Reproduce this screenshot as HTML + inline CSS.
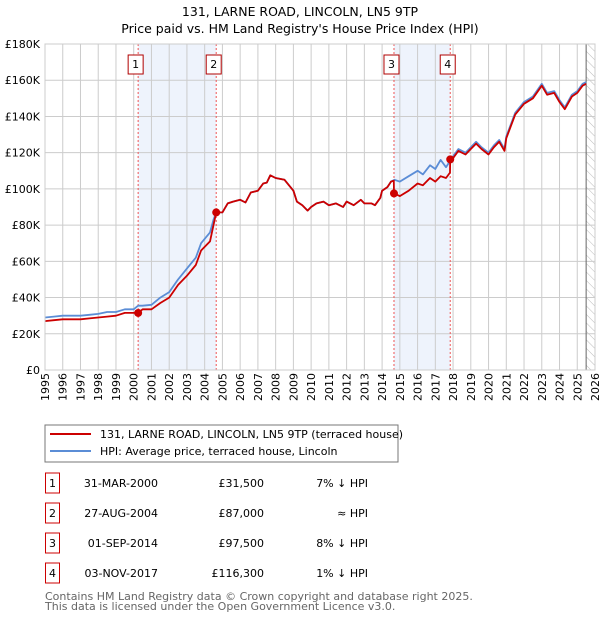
<!DOCTYPE html>
<html><head><meta charset="utf-8">
<style>
body{margin:0;background:#fff;font-family:"Liberation Sans","DejaVu Sans",sans-serif;}
#wrap{position:relative;width:600px;height:620px;overflow:hidden;}
svg text{font-family:"DejaVu Sans","Liberation Sans",sans-serif;}
</style></head>
<body>
<div id="wrap">
<svg id="chart" width="600" height="620" style="position:absolute;left:0;top:0">
<defs>
<pattern id="hatch" width="6" height="6" patternUnits="userSpaceOnUse" patternTransform="rotate(-45)">
<line x1="0" y1="0" x2="0" y2="6" stroke="#bbb" stroke-width="1"/>
</pattern>
</defs>
<text x="300" y="16" text-anchor="middle" font-size="12.5">131, LARNE ROAD, LINCOLN, LN5 9TP</text>
<text x="300" y="33" text-anchor="middle" font-size="12.5">Price paid vs. HM Land Registry's House Price Index (HPI)</text>
<g id="plot"></g>
<g id="xlabels" font-size="11" text-anchor="end">
<text transform="translate(49,373) rotate(-90)">1995</text>
<text transform="translate(66.7,373) rotate(-90)">1996</text>
<text transform="translate(84.5,373) rotate(-90)">1997</text>
<text transform="translate(102.2,373) rotate(-90)">1998</text>
<text transform="translate(120,373) rotate(-90)">1999</text>
<text transform="translate(137.7,373) rotate(-90)">2000</text>
<text transform="translate(155.5,373) rotate(-90)">2001</text>
<text transform="translate(173.2,373) rotate(-90)">2002</text>
<text transform="translate(191,373) rotate(-90)">2003</text>
<text transform="translate(208.7,373) rotate(-90)">2004</text>
<text transform="translate(226.4,373) rotate(-90)">2005</text>
<text transform="translate(244.2,373) rotate(-90)">2006</text>
<text transform="translate(261.9,373) rotate(-90)">2007</text>
<text transform="translate(279.7,373) rotate(-90)">2008</text>
<text transform="translate(297.4,373) rotate(-90)">2009</text>
<text transform="translate(315.1,373) rotate(-90)">2010</text>
<text transform="translate(332.9,373) rotate(-90)">2011</text>
<text transform="translate(350.6,373) rotate(-90)">2012</text>
<text transform="translate(368.4,373) rotate(-90)">2013</text>
<text transform="translate(386.1,373) rotate(-90)">2014</text>
<text transform="translate(403.8,373) rotate(-90)">2015</text>
<text transform="translate(421.6,373) rotate(-90)">2016</text>
<text transform="translate(439.3,373) rotate(-90)">2017</text>
<text transform="translate(457.1,373) rotate(-90)">2018</text>
<text transform="translate(474.8,373) rotate(-90)">2019</text>
<text transform="translate(492.5,373) rotate(-90)">2020</text>
<text transform="translate(510.3,373) rotate(-90)">2021</text>
<text transform="translate(528,373) rotate(-90)">2022</text>
<text transform="translate(545.8,373) rotate(-90)">2023</text>
<text transform="translate(563.5,373) rotate(-90)">2024</text>
<text transform="translate(581.3,373) rotate(-90)">2025</text>
<text transform="translate(599,373) rotate(-90)">2026</text>
</g>
<rect x="45" y="425" width="353" height="37" fill="#fff" stroke="#777"/>
<line x1="50" y1="434" x2="91" y2="434" stroke="#cc0000" stroke-width="2"/>
<text x="100" y="438" font-size="11">131, LARNE ROAD, LINCOLN, LN5 9TP (terraced house)</text>
<line x1="50" y1="451" x2="91" y2="451" stroke="#5b8dd6" stroke-width="2"/>
<text x="100" y="455" font-size="11">HPI: Average price, terraced house, Lincoln</text>
<g id="table" font-size="11"></g>
<text x="45" y="600" font-size="11" fill="#666">Contains HM Land Registry data © Crown copyright and database right 2025.</text>
<text x="45" y="610" font-size="11" fill="#666">This data is licensed under the Open Government Licence v3.0.</text>
</svg>
</div>
<script>
const hpiYears=[1995,1995.5,1996,1996.5,1997,1997.5,1998,1998.5,1999,1999.5,2000,2000.25,2000.5,2001,2001.5,2002,2002.5,2003,2003.5,2003.8,2004.3,2004.5,2004.65,2005,2005.3,2005.6,2006,2006.3,2006.6,2007,2007.3,2007.5,2007.7,2008,2008.5,2009,2009.2,2009.5,2009.8,2010,2010.3,2010.7,2011,2011.4,2011.8,2012,2012.4,2012.8,2013,2013.4,2013.6,2013.9,2014,2014.3,2014.5,2014.7,2015,2015.5,2016,2016.3,2016.7,2017,2017.3,2017.6,2018,2018.3,2018.7,2019,2019.3,2019.6,2020,2020.3,2020.6,2020.9,2021,2021.5,2022,2022.5,2023,2023.3,2023.7,2024,2024.3,2024.7,2025,2025.3,2025.5];
const hpiValues=[29,29.5,30,30,30,30.5,31,32,32,33.5,33.5,35.5,35.5,36,40,43,50,56,62,70,76,83,87,87,92,93,94,92.5,98,99,103,103.5,107.5,106,105,99,93,91,88,90,92,93,91,92,90,93,91,94,92,92,91,95,99,101,104,105,104,107,110,108,113,111,116,112,118,122,120,123,126,123,120,124,127,122,129,142,148,151,158,153,154,149,145,152,154,158,159];
const ppYears=[1995,1995.5,1996,1996.5,1997,1997.5,1998,1998.5,1999,1999.5,2000,2000.25,2000.5,2001,2001.5,2002,2002.5,2003,2003.5,2003.8,2004.3,2004.5,2004.65,2005,2005.3,2005.6,2006,2006.3,2006.6,2007,2007.3,2007.5,2007.7,2008,2008.5,2009,2009.2,2009.5,2009.8,2010,2010.3,2010.7,2011,2011.4,2011.8,2012,2012.4,2012.8,2013,2013.4,2013.6,2013.9,2014,2014.3,2014.5,2014.66,2014.67,2015,2015.5,2016,2016.3,2016.7,2017,2017.3,2017.6,2017.83,2017.84,2018,2018.3,2018.7,2019,2019.3,2019.6,2020,2020.3,2020.6,2020.9,2021,2021.5,2022,2022.5,2023,2023.3,2023.7,2024,2024.3,2024.7,2025,2025.3,2025.5];
const ppValues=[27,27.5,28,28,28,28.5,29,29.5,30,31.5,31.5,31.5,33.5,33.5,37,40,47,52,58,66,71,80,87,87,92,93,94,92.5,98,99,103,103.5,107.5,106,105,99,93,91,88,90,92,93,91,92,90,93,91,94,92,92,91,95,99,101,104,104.5,97.5,96,99,103,102,106,104,107,106,109,116.3,117,121,119,122,125,122,119,123,126,121,128,141,147,150,157,152,153,148,144,151,153,157,158];
const saleYears=[2000.25,2004.65,2014.67,2017.84];
const saleValues=[31.5,87,97.5,116.3];
const saleLabels=["1","2","3","4"];
const saleDates=["31-MAR-2000","27-AUG-2004","01-SEP-2014","03-NOV-2017"];
const salePrices=["£31,500","£87,000","£97,500","£116,300"];
const saleRel=["7% ↓ HPI","≈ HPI","8% ↓ HPI","1% ↓ HPI"];
const yTicks=[0,20,40,60,80,100,120,140,160,180];
const yTickLabels=["£0","£20K","£40K","£60K","£80K","£100K","£120K","£140K","£160K","£180K"];
const xTicks=[1995,1996,1997,1998,1999,2000,2001,2002,2003,2004,2005,2006,2007,2008,2009,2010,2011,2012,2013,2014,2015,2016,2017,2018,2019,2020,2021,2022,2023,2024,2025,2026];

const X0=45,X1=595,Y0=370,Y1=44;
const xs=y=>X0+(y-1995)/(2026-1995)*(X1-X0);
const ys=v=>Y0-v/180*(Y0-Y1);
const NS="http://www.w3.org/2000/svg";
const plot=document.getElementById('plot');
function mk(tag,attrs,parent){const e=document.createElementNS(NS,tag);for(const k in attrs)e.setAttribute(k,attrs[k]);(parent||plot).appendChild(e);return e;}

let e=mk('rect',{x:X0,y:Y1,width:X1-X0,height:Y0-Y1,fill:'#fff'});


for(let i=0;i<2;i++){
  e=mk('rect',{x:xs(saleYears[i*2]),y:Y1,width:xs(saleYears[i*2+1])-xs(saleYears[i*2]),height:Y0-Y1,fill:'#eef3fc'});
  
  
}
e=mk('rect',{x:xs(2025.5),y:Y1,width:X1-xs(2025.5),height:Y0-Y1,fill:'url(#hatch)'});


xTicks.forEach(t=>{
  e=mk('line',{x1:xs(t),x2:xs(t),y1:Y1,y2:Y0,stroke:'#ccc','stroke-width':1});
  
  
});
yTicks.forEach((t,i)=>{
  e=mk('line',{x1:X0,x2:X1,y1:ys(t),y2:ys(t),stroke:'#ccc','stroke-width':1});
  
  
  e=mk('text',{x:40,y:ys(t)+4,'text-anchor':'end','font-size':11});
  e.textContent=yTickLabels[i];
  
  
});
e=mk('line',{x1:xs(2025.5),x2:xs(2025.5),y1:Y1,y2:Y0,stroke:'#666','stroke-width':1});


saleYears.forEach((s,i)=>{
  e=mk('line',{x1:xs(s),x2:xs(s),y1:Y1,y2:Y0,stroke:'#e55','stroke-width':1,'stroke-dasharray':'2,2'});
  
  
});
function path(xa,va,color,name){
  const d=xa.map((x,i)=>(i?'L':'M')+xs(x).toFixed(1)+','+ys(va[i]).toFixed(1)).join('');
  const p=mk('path',{d:d,fill:'none',stroke:color,'stroke-width':1.8,'stroke-linejoin':'round'});
  
  
}
path(hpiYears,hpiValues,'#5b8dd6','hpi-line');
path(ppYears,ppValues,'#cc0000','price-paid-line');
saleYears.forEach((s,i)=>{
  e=mk('circle',{cx:xs(s),cy:ys(saleValues[i]),r:4,fill:'#cc0000'});
  
  
  e=mk('rect',{x:xs(s)-10,y:55,width:15,height:19,fill:'#fff',stroke:'#b00000'});
  
  
  e=mk('text',{x:xs(s)-2.5,y:68,'text-anchor':'middle','font-size':11});
  e.textContent=saleLabels[i];
  
  
});
e=mk('rect',{x:X0,y:Y1,width:X1-X0,height:Y0-Y1,fill:'none',stroke:'#ccc'});



const tbl=document.getElementById('table');
saleLabels.forEach((l,i)=>{
  const cy=483+i*30;
  e=mk('rect',{x:45.5,y:cy-10,width:14,height:20,fill:'#fff',stroke:'#cc0000'},tbl);
  
  
  e=mk('text',{x:52.5,y:cy+4,'text-anchor':'middle'},tbl);e.textContent=l;
  
  
  e=mk('text',{x:158,y:cy+4,'text-anchor':'end'},tbl);e.textContent=saleDates[i];
  
  
  e=mk('text',{x:264,y:cy+4,'text-anchor':'end'},tbl);e.textContent=salePrices[i];
  
  
  e=mk('text',{x:368,y:cy+4,'text-anchor':'end'},tbl);e.textContent=saleRel[i];
  
  
});
</script>
</body></html>
